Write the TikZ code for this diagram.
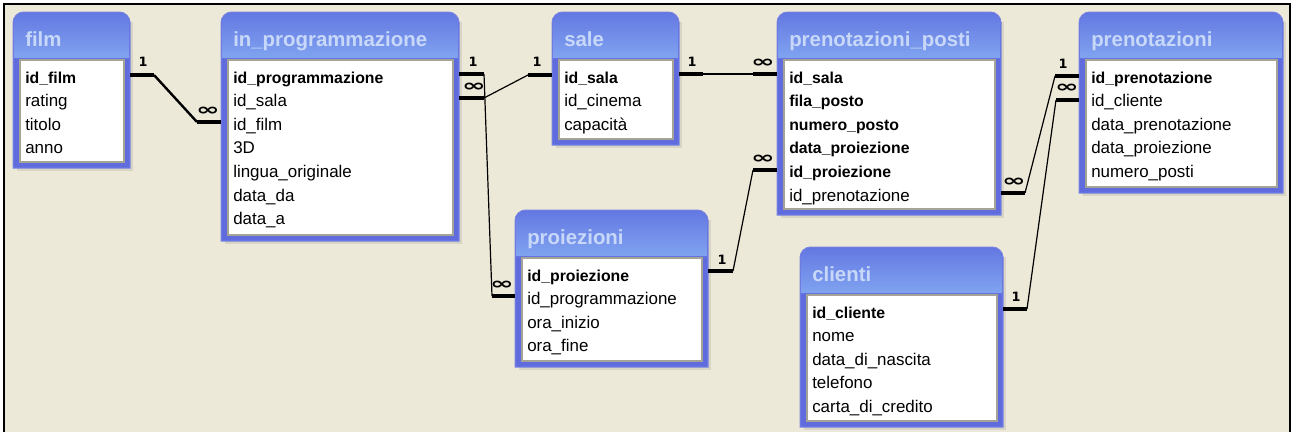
\documentclass[tikz,border=0pt]{standalone}
\usepackage{fontspec}
\setmainfont{Liberation Sans}
\newfontfamily\symf{DejaVu Sans}
\usepackage{graphicx}
\definecolor{bg}{RGB}{236,233,216}
\definecolor{bodyc}{RGB}{96,108,222}
\definecolor{titletop}{RGB}{100,120,226}
\definecolor{titlebot}{RGB}{128,164,240}
\definecolor{edgec}{RGB}{120,132,226}
\definecolor{titletxt}{RGB}{200,216,248}
\definecolor{shadowc}{RGB}{216,212,198}
\definecolor{boxedge}{RGB}{165,162,150}
\tikzset{
  fld/.style={anchor=base west, inner sep=0pt, font=\fontsize{12.7}{15}\selectfont},
  ttl/.style={anchor=base west, inner sep=0pt, text=titletxt, font=\fontsize{15.3}{18}\selectfont\bfseries},
  stub/.style={line width=3pt},
  rel/.style={line width=0.9pt},
  relthick/.style={line width=1.8pt},
  onelbl/.style={inner sep=0pt, font=\symf\bfseries\fontsize{9.6}{11}\selectfont},
  manylbl/.style={inner sep=0pt, font=\symf\bfseries\fontsize{12.5}{14}\selectfont},
}
\newcommand\bfld{\fontsize{11.85}{15}\selectfont\bfseries}
\newcommand\manysym{\scalebox{1.7}[1]{∞}}
% #1 name, #2 x1, #3 y1, #4 x2, #5 y2, #6 title, #7 fields
\newcommand\acctbl[7]{%
  \fill[shadowc] ({#2+4},{#3+10}) rectangle ({#4+3},{#5+3});
  \path[fill=bodyc] (#2,{#3+20}) [rounded corners=8] -- (#2,#3) -- (#4,#3) -- (#4,{#3+20}) [sharp corners] -- (#4,#5) -- (#2,#5) -- cycle;
  \shade[top color=titletop, bottom color=titlebot] ({#2+1},{#3+20}) [rounded corners=7] -- ({#2+1},{#3+1}) -- ({#4-1},{#3+1}) -- ({#4-1},{#3+20}) [sharp corners] -- ({#4-1},{#3+46}) -- ({#2+1},{#3+46}) -- cycle;
  \draw[edgec, line width=0.75pt] (#2,{#3+20}) [rounded corners=8] -- (#2,#3) -- (#4,#3) -- (#4,{#3+20}) [sharp corners] -- (#4,#5) -- (#2,#5) -- cycle;
  \fill[white] ({#2+7},{#3+48}) rectangle ({#4-6},{#5-6});
  \draw[boxedge, line width=1.2pt] ({#2+7},{#3+48}) rectangle ({#4-6},{#5-6});
  \node[ttl] (#1-t) at ({#2+12},{#3+34.5}) {#6};
  \foreach \f [count=\i] in {#7} {
    \node[fld] (#1-\i) at ({#2+12},{#3+71+(\i-1)*23.6}) {\f};
  }
}
\begin{document}
\begin{tikzpicture}[x=0.75pt, y=-0.75pt]
\useasboundingbox (0,0) rectangle (1291,432);
\fill[white] (0,0) rectangle (1291,432);
\fill[bg] (4,3.7) rectangle (1289.5,432);
\draw[black, line width=1.5pt] (4,432) -- (4,3.7) -- (1289.5,3.7) -- (1289.5,432);

\acctbl{film}{13}{12}{130}{168}{film}{\bfld id\_film, rating, titolo, anno}
\acctbl{prog}{221}{12}{459}{241}{in\_programmazione}{\bfld id\_programmazione, id\_sala, id\_film, 3D, lingua\_originale, data\_da, data\_a}
\acctbl{sale}{552}{12}{679}{145}{sale}{\bfld id\_sala, id\_cinema, capacità}
\acctbl{pp}{777}{12}{1001}{215}{prenotazioni\_posti}{\bfld id\_sala, \bfld fila\_posto, \bfld numero\_posto, \bfld data\_proiezione, \bfld id\_proiezione, id\_prenotazione}
\acctbl{pren}{1079}{12}{1283}{193}{prenotazioni}{\bfld id\_prenotazione, id\_cliente, data\_prenotazione, data\_proiezione, numero\_posti}
\acctbl{proi}{515}{210}{708}{367}{proiezioni}{\bfld id\_proiezione, id\_programmazione, ora\_inizio, ora\_fine}
\acctbl{cli}{800}{247}{1003}{427}{clienti}{\bfld id\_cliente, nome, data\_di\_nascita, telefono, carta\_di\_credito}

% film -> in_programmazione
\coordinate (f1) at (130,75); \coordinate (f2) at (154,75);
\coordinate (f3) at (197,122); \coordinate (f4) at (221,122);
\draw[stub] (f1) -- (f2); \draw[relthick] (f2) -- (f3); \draw[stub] (f3) -- (f4);
\node[onelbl] (f1l) at (143,62) {1};
\node[manylbl] (f4l) at (208,111) {\manysym};

% in_programmazione.id_programmazione -> proiezioni.id_programmazione
\coordinate (p1) at (459,74); \coordinate (p2) at (484,74);
\coordinate (p3) at (492,296); \coordinate (p4) at (515,296);
\draw[stub] (p1) -- (p2); \draw[rel] (p2) -- (p3); \draw[stub] (p3) -- (p4);
\node[onelbl] (p1l) at (473,62) {1};
\node[manylbl] (p4l) at (502,285) {\manysym};

% in_programmazione.id_sala -> sale.id_sala
\coordinate (s1) at (459,98); \coordinate (s2) at (484,98);
\coordinate (s3) at (528,75); \coordinate (s4) at (552,75);
\draw[stub] (s1) -- (s2); \draw[rel] (s2) -- (s3); \draw[stub] (s3) -- (s4);
\node[manylbl] (s1l) at (474,87) {\manysym};
\node[onelbl] (s4l) at (537,62) {1};

% sale -> prenotazioni_posti
\coordinate (t1) at (679,74); \coordinate (t2) at (703,74);
\coordinate (t3) at (753,74); \coordinate (t4) at (777,74);
\draw[stub] (t1) -- (t2); \draw[rel] (t2) -- (t3); \draw[stub] (t3) -- (t4);
\node[onelbl] (t1l) at (692,62) {1};
\node[manylbl] (t4l) at (763,63) {\manysym};

% proiezioni -> prenotazioni_posti
\coordinate (u1) at (708,271); \coordinate (u2) at (733,271);
\coordinate (u3) at (753,170); \coordinate (u4) at (777,170);
\draw[stub] (u1) -- (u2); \draw[rel] (u2) -- (u3); \draw[stub] (u3) -- (u4);
\node[onelbl] (u1l) at (722,260) {1};
\node[manylbl] (u4l) at (763,159) {\manysym};

% prenotazioni_posti -> prenotazioni
\coordinate (v1) at (1001,193); \coordinate (v2) at (1025,193);
\coordinate (v3) at (1055,76); \coordinate (v4) at (1079,76);
\draw[stub] (v1) -- (v2); \draw[rel] (v2) -- (v3); \draw[stub] (v3) -- (v4);
\node[manylbl] (v1l) at (1014,182) {\manysym};
\node[onelbl] (v4l) at (1063,64) {1};

% clienti -> prenotazioni
\coordinate (w1) at (1003,309); \coordinate (w2) at (1027,309);
\coordinate (w3) at (1056,100); \coordinate (w4) at (1079,100);
\draw[stub] (w1) -- (w2); \draw[rel] (w2) -- (w3); \draw[stub] (w3) -- (w4);
\node[onelbl] (w1l) at (1016,297) {1};
\node[manylbl] (w4l) at (1067,88) {\manysym};
\end{tikzpicture}
\end{document}
